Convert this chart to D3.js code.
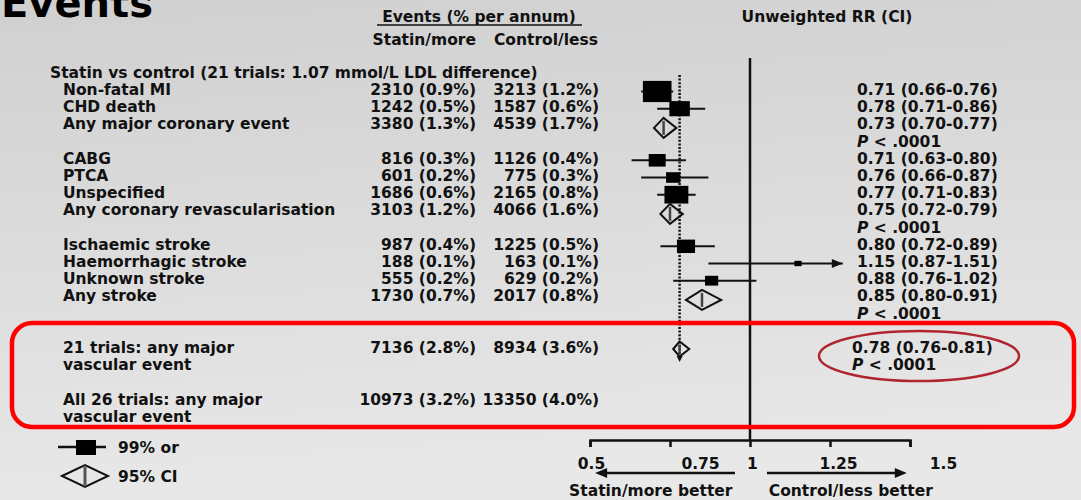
<!DOCTYPE html>
<html><head><meta charset="utf-8">
<script src="https://cdn.jsdelivr.net/npm/d3@7"></script>
<style>
html,body{margin:0;padding:0;overflow:hidden;}
svg{display:block;font-family:"DejaVu Sans",Verdana,sans-serif;font-weight:bold;}
</style></head>
<body>
<svg id="c" width="1081" height="500"></svg>
<script>
// ---------- data ----------
const outcomes = ["Non-fatal MI","CHD death","Any major coronary event","CABG","PTCA","Unspecified",
  "Any coronary revascularisation","Ischaemic stroke","Haemorrhagic stroke","Unknown stroke","Any stroke",
  "21 trials: any major|vascular event","All 26 trials: any major|vascular event"];
const rowIndex = [0,1,2,4,5,6,7,9,10,11,12,15,18];
const statinEvents = [2310,1242,3380,816,601,1686,3103,987,188,555,1730,7136,10973];
const statinPct = [0.9,0.5,1.3,0.3,0.2,0.6,1.2,0.4,0.1,0.2,0.7,2.8,3.2];
const controlEvents = [3213,1587,4539,1126,775,2165,4066,1225,163,629,2017,8934,13350];
const controlPct = [1.2,0.6,1.7,0.4,0.3,0.8,1.6,0.5,0.1,0.2,0.8,3.6,4.0];
const rr = [0.71,0.78,0.73,0.71,0.76,0.77,0.75,0.80,1.15,0.88,0.85,0.78,null];
const ciLo = [0.66,0.71,0.70,0.63,0.66,0.71,0.72,0.72,0.87,0.76,0.80,0.76,null];
const ciHi = [0.76,0.86,0.77,0.80,0.87,0.83,0.79,0.89,1.51,1.02,0.91,0.81,null];
const markType = ["square","square","diamond","square","square","square","diamond","square","square","square","diamond","diamond",null];
const showP = [false,false,true,false,false,false,true,false,false,false,true,true,false];
const tickValues = [0.5,0.75,1,1.25,1.5];
const tickLabels = ["0.5","0.75","1","1.25","1.5"];
const overallRR = 0.78;
const plotMaxRR = 1.29;

// ---------- layout ----------
const svg = d3.select("#c");
const W = 1081, H = 500;
const defs = svg.append("defs");
const grad = defs.append("linearGradient").attr("id","bg").attr("x1",0).attr("y1",0).attr("x2",0.15).attr("y2",1);
grad.append("stop").attr("offset","0%").attr("stop-color","#d0d0d0");
grad.append("stop").attr("offset","100%").attr("stop-color","#e8e8e8");
svg.append("rect").attr("width",W).attr("height",H).attr("fill","url(#bg)");

const ink = "#111";
const x = d3.scaleLinear().domain([0.5,1.5]).range([590,910]);
const y = d3.scaleLinear().domain([0,1]).range([89.5,106.7]);
const sq = d3.scaleSqrt().domain([0,5523]).range([0,28.6]);
const FS = 15.5;

function txt(t, px, py, opts={}){
  const e = svg.append("text").attr("x",px).attr("y",py).attr("dy","0.36em")
    .attr("font-size",opts.fs||FS).attr("fill",opts.fill||ink).text(t);
  if(opts.anchor) e.attr("text-anchor",opts.anchor);
  if(opts.italic) e.attr("font-style","italic");
  return e;
}

// title
svg.append("text").attr("x",1).attr("y",17).attr("font-size",40).attr("fill","#000").text("Events");

// headers
txt("Events (% per annum)", 479, 16, {anchor:"middle"});
svg.append("line").attr("x1",377).attr("x2",582).attr("y1",25).attr("y2",25).attr("stroke",ink).attr("stroke-width",1.5);
txt("Statin/more", 476, 39, {anchor:"end"});
txt("Control/less", 598, 39, {anchor:"end"});
txt("Unweighted RR (CI)", 827, 16, {anchor:"middle"});
txt("Statin vs control (21 trials: 1.07 mmol/L LDL difference)", 50, y(-1));

// rows text
outcomes.forEach((o,i)=>{
  const parts = o.split("|");
  parts.forEach((p,k)=> txt(p, 63, y(rowIndex[i]+k)));
  txt(`${statinEvents[i]} (${statinPct[i].toFixed(1)}%)`, 476, y(rowIndex[i]), {anchor:"end"});
  txt(`${controlEvents[i]} (${controlPct[i].toFixed(1)}%)`, 599, y(rowIndex[i]), {anchor:"end"});
  if(rr[i]!=null){
    const rx = i===11 ? 852 : 857;
    txt(`${rr[i].toFixed(2)} (${ciLo[i].toFixed(2)}-${ciHi[i].toFixed(2)})`, rx, y(rowIndex[i]));
    if(showP[i]){
      const t = svg.append("text").attr("x",rx).attr("y",y(rowIndex[i]+1)).attr("dy","0.36em").attr("font-size",FS).attr("fill",ink);
      t.append("tspan").attr("font-style","italic").text("P");
      t.append("tspan").text(" < .0001");
    }
  }
});

// reference lines
svg.append("line").attr("x1",x(1)).attr("x2",x(1)).attr("y1",58).attr("y2",440).attr("stroke",ink).attr("stroke-width",2.5);
svg.append("line").attr("x1",x(overallRR)).attr("x2",x(overallRR)).attr("y1",75).attr("y2",358)
  .attr("stroke",ink).attr("stroke-width",2.5).attr("stroke-dasharray","2,1.6");
svg.append("path").attr("d",`M${x(overallRR)-3},356 L${x(overallRR)+3},356 L${x(overallRR)},362 Z`).attr("fill",ink);

// markers
function diamond(cx, cy, x0, x1, hh, g){
  g.append("path").attr("d",`M${x0},${cy} L${cx},${cy-hh} L${x1},${cy} L${cx},${cy+hh} Z`)
    .attr("fill","none").attr("stroke",ink).attr("stroke-width",2);
  g.append("line").attr("x1",cx).attr("x2",cx).attr("y1",cy-hh+3).attr("y2",cy+hh-3).attr("stroke","#444").attr("stroke-width",2.5);
}
const mg = svg.append("g");
rr.forEach((v,i)=>{
  if(v==null) return;
  const cy = y(rowIndex[i]);
  if(markType[i]==="square"){
    const hiClip = Math.min(ciHi[i], plotMaxRR);
    const ly = cy+2;
    mg.append("line").attr("x1",x(ciLo[i])).attr("x2",x(hiClip)).attr("y1",ly).attr("y2",ly).attr("stroke",ink).attr("stroke-width",2);
    if(ciHi[i]>plotMaxRR){
      const ax = x(plotMaxRR);
      mg.append("path").attr("d",`M${ax},${ly} L${ax-11},${ly-4.5} L${ax-11},${ly+4.5} Z`).attr("fill",ink);
    }
    const n = statinEvents[i]+controlEvents[i];
    const w = sq(n), h = w/1.35;
    mg.append("rect").attr("x",x(v)-w/2).attr("y",ly-h/2).attr("width",w).attr("height",h).attr("fill","#000");
  } else {
    const hh = i===11 ? 7.5 : 10;
    diamond(x(v), cy+(i===11?1.5:4), x(ciLo[i]), x(ciHi[i]), hh, mg);
  }
});

// axis
const axis = d3.axisBottom(x).tickValues(tickValues).tickSizeInner(7).tickSizeOuter(7).tickPadding(11)
  .tickFormat((d,i)=>tickLabels[i]);
const ag = svg.append("g").attr("transform","translate(0,440)").call(axis);
ag.select(".domain").attr("stroke",ink).attr("stroke-width",2.5);
ag.selectAll(".tick line").attr("stroke",ink).attr("stroke-width",2.5);
const labelDx = [1,30,2,8,33];
ag.selectAll(".tick text").attr("fill",ink).attr("font-size",FS).attr("font-family","DejaVu Sans").attr("font-weight","bold")
  .attr("dx",(d,i)=>labelDx[i]);

// direction arrows
function arrow(v0, v1, ay){
  const x0 = x(v0), x1 = x(v1), dir = Math.sign(x1-x0);
  svg.append("line").attr("x1",x0).attr("x2",x1-dir*8).attr("y1",ay).attr("y2",ay).attr("stroke",ink).attr("stroke-width",2.5);
  svg.append("path").attr("d",`M${x1},${ay} L${x1-dir*12},${ay-5} L${x1-dir*12},${ay+5} Z`).attr("fill",ink);
}
arrow(0.953, 0.516, 473);
arrow(1.053, 1.49, 473);
txt("Statin/more better", x(0.69), 490, {anchor:"middle"});
txt("Control/less better", x(1.315), 490, {anchor:"middle"});

// legend
svg.append("line").attr("x1",58).attr("x2",106).attr("y1",447).attr("y2",447).attr("stroke",ink).attr("stroke-width",2.5);
svg.append("rect").attr("x",76).attr("y",440).attr("width",20).attr("height",15).attr("fill","#000");
txt("99% or", 118, 447);
svg.append("path").attr("d","M62,476 L85,465 L108,476 L85,487 Z").attr("fill","none").attr("stroke",ink).attr("stroke-width",2);
svg.append("line").attr("x1",85).attr("x2",85).attr("y1",467).attr("y2",485).attr("stroke","#555").attr("stroke-width",3);
txt("95% CI", 118, 476);

// highlight annotations
svg.append("rect").attr("x",12).attr("y",323).attr("width",1062).attr("height",104).attr("rx",20)
  .attr("fill","none").attr("stroke","#ff0000").attr("stroke-width",4.5);
svg.append("ellipse").attr("cx",919).attr("cy",356).attr("rx",100).attr("ry",25)
  .attr("fill","none").attr("stroke","#b0262e").attr("stroke-width",2.5);
</script>
</body></html>
